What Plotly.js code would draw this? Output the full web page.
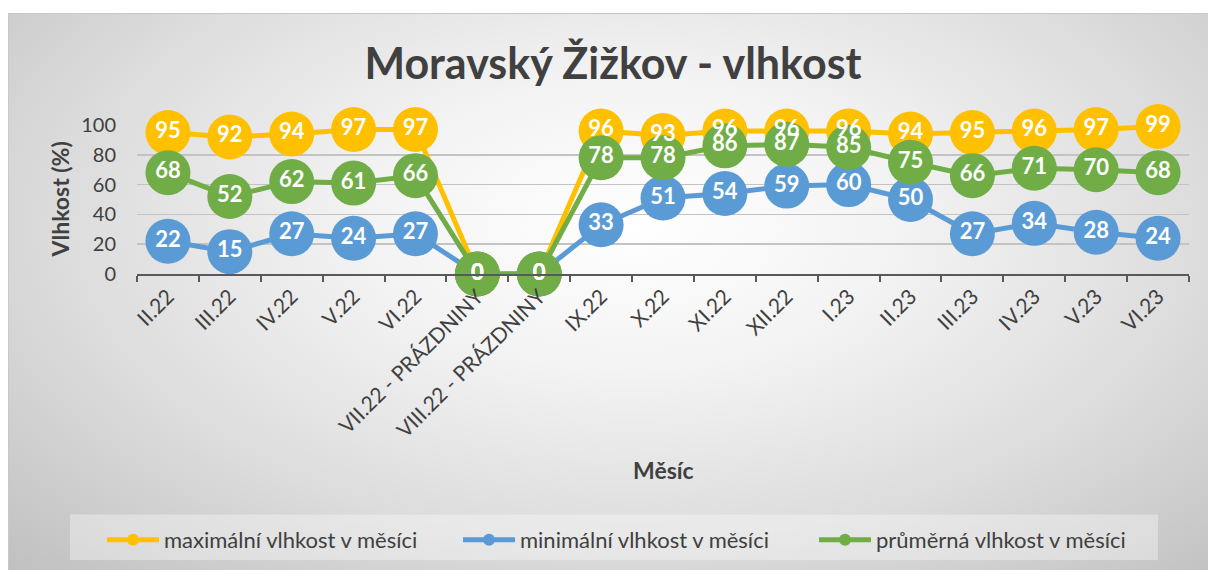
<!DOCTYPE html>
<html>
<head>
<meta charset="utf-8">
<script src="https://cdn.plot.ly/plotly-3.0.1.min.js"></script>
<style>
  html, body { margin: 0; padding: 0; background: #ffffff; }
  #wrap { position: relative; width: 1208px; height: 570px; background: #ffffff; overflow: hidden; }
  #bg { position: absolute; left: 8px; top: 13px; width: 1200px; height: 557px;
        border-left: 1px solid #c8c8c8; border-top: 1px solid #c8c8c8; box-sizing: border-box;
        background: radial-gradient(ellipse farthest-corner at 52% 38%, #ffffff 0%, #f3f3f3 30%, #dcdcdc 65%, #c0c0c0 100%); }
  #chart { position: absolute; left: 0; top: 0; width: 1208px; height: 570px; }
</style>
</head>
<body>
<div id="wrap">
  <div id="bg"></div>
  <div id="chart"></div>
</div>
<script>
const months = ["II.22", "III.22", "IV.22", "V.22", "VI.22", "VII.22 - PRÁZDNINY", "VIII.22 - PRÁZDNINY",
                "IX.22", "X.22", "XI.22", "XII.22", "I.23", "II.23", "III.23", "IV.23", "V.23", "VI.23"];
const maxHumidity = [95, 92, 94, 97, 97, 0, 0, 96, 93, 96, 96, 96, 94, 95, 96, 97, 99];
const minHumidity = [22, 15, 27, 24, 27, 0, 0, 33, 51, 54, 59, 60, 50, 27, 34, 28, 24];
const avgHumidity = [68, 52, 62, 61, 66, 0, 0, 78, 78, 86, 87, 85, 75, 66, 71, 70, 68];
const seriesNames = ["maximální vlhkost v měsíci", "minimální vlhkost v měsíci", "průměrná vlhkost v měsíci"];
const yTicks = [0, 20, 40, 60, 80, 100];

const FONT = "Lato, 'Open Sans', sans-serif";
const colors = ["#FFC000", "#5B9BD5", "#70AD47"];
const series = [maxHumidity, minHumidity, avgHumidity];

const traces = [];
series.forEach((vals, i) => {
  traces.push({
    type: "scatter", mode: "lines+markers", x: months, y: vals, name: seriesNames[i],
    line: { color: colors[i], width: 5 },
    marker: { color: colors[i], size: 45 },
    cliponaxis: false, hoverinfo: "x+y+name"
  });
});
series.forEach((vals, i) => {
  traces.push({
    type: "scatter", mode: "text", x: months, y: vals, text: vals.map(String),
    textposition: "middle center",
    textfont: { family: FONT, size: 22, color: "#ffffff", weight: "bold" },
    showlegend: false, cliponaxis: false, hoverinfo: "skip"
  });
});

const L = 137, R = 1189, T = 125, B = 275;
const px = v => (v - L) / (R - L);
const py = v => (B - v) / (B - T);

const layout = {
  width: 1208, height: 570,
  margin: { l: L, r: 1208 - R, t: T, b: 570 - B, pad: 0 },
  paper_bgcolor: "rgba(0,0,0,0)", plot_bgcolor: "rgba(0,0,0,0)",
  font: { family: FONT, color: "#404040" },
  title: { text: "<b>Moravský Žižkov - vlhkost</b>", x: 613 / 1208, xref: "container", xanchor: "center",
           y: 1 - 64 / 570, yref: "container", yanchor: "middle",
           font: { family: FONT, size: 43, color: "#404040" } },
  xaxis: {
    type: "category", range: [-0.5, months.length - 0.5], autorange: false,
    tickangle: -45, tickfont: { family: FONT, size: 21, color: "#404040" },
    showline: true, linecolor: "#595959", linewidth: 2,
    ticks: "outside", tickson: "boundaries", ticklen: 6, tickwidth: 2, tickcolor: "#595959",
    showgrid: false, zeroline: false, fixedrange: true
  },
  yaxis: {
    range: [0, 100], autorange: false, tickvals: yTicks, ticktext: yTicks.map(String),
    tickfont: { family: FONT, size: 20, color: "#404040" },
    ticks: "", ticklabelstandoff: 20,
    showgrid: true, gridcolor: "#c3c3c3", gridwidth: 1.5,
    zeroline: false, showline: false, fixedrange: true
  },
  annotations: [
    { text: "<b>Vlhkost (%)</b>", xref: "paper", yref: "paper", x: px(59), y: py(200),
      textangle: -90, showarrow: false, xanchor: "center", yanchor: "middle",
      font: { family: FONT, size: 23, color: "#404040" } },
    { text: "<b>Měsíc</b>", xref: "paper", yref: "paper", x: px(663), y: py(472),
      showarrow: false, xanchor: "center", yanchor: "middle",
      font: { family: FONT, size: 23, color: "#404040" } }
  ],
  shapes: [
    { type: "rect", xref: "paper", yref: "paper", x0: px(70), x1: px(1158), y0: py(563), y1: py(517),
      fillcolor: "rgba(255,255,255,0.35)", line: { width: 0 }, layer: "below" }
  ],
  legend: {
    orientation: "h", x: px(102), y: py(540), xanchor: "left", yanchor: "middle",
    bgcolor: "rgba(0,0,0,0)", borderwidth: 0,
    font: { family: FONT, size: 22, color: "#404040" },
    itemwidth: 52, entrywidth: 289, entrywidthmode: "pixels", itemsizing: "constant"
  },
  showlegend: true
};

Plotly.newPlot("chart", traces, layout, { displayModeBar: false, staticPlot: true });
</script>
</body>
</html>
